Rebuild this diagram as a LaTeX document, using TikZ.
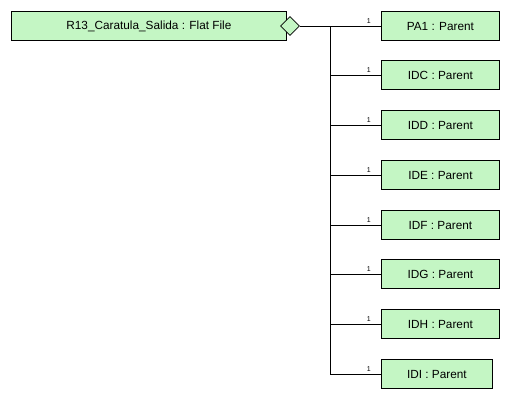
\documentclass[tikz,border=0pt]{standalone}
\usepackage{fontspec}
\setmainfont{Liberation Sans}
\definecolor{boxgreen}{RGB}{196,246,196}
\tikzset{
  classbox/.style={draw, line width=0.8pt, fill=boxgreen, minimum height=29pt, minimum width=118pt, inner sep=0pt, anchor=west, font=\fontsize{11.8}{14}\selectfont},
  mult/.style={font=\fontsize{7}{8}\selectfont, inner sep=1pt, anchor=south east},
  agg/.style={draw, line width=0.8pt, fill=boxgreen, diamond, minimum width=19pt, minimum height=19pt, inner sep=0pt},
  wire/.style={line width=0.8pt}
}
\usetikzlibrary{shapes.geometric}
\begin{document}
\begin{tikzpicture}[x=1pt,y=-1pt]
  \useasboundingbox (0,0) rectangle (511,410);
  % the flat file and its aggregation end
  \node[classbox, minimum width=275pt] (file) at (11,26) {R13\_Caratula\_Salida : Flat File};
  \node[agg] (dia) at (290,26) {};
  % the parents
  \node[classbox] (pa1) at (381,26) {PA1 : Parent};
  \node[classbox] (idc) at (381,75) {IDC : Parent};
  \node[classbox] (idd) at (381,125) {IDD : Parent};
  \node[classbox] (ide) at (381,175) {IDE : Parent};
  \node[classbox] (idf) at (381,225) {IDF : Parent};
  \node[classbox] (idg) at (381,274) {IDG : Parent};
  \node[classbox] (idh) at (381,324) {IDH : Parent};
  \node[classbox, minimum width=111pt] (idi) at (381,374) {IDI : Parent};
  % the trunk
  \coordinate (top) at (330,26);
  \coordinate (bot) at (330,374);
  \draw[wire] (dia.east) -- (pa1.west);
  \draw[wire] (top) -- (bot);
  \draw[wire] (330,75) -- (idc.west);
  \draw[wire] (330,125) -- (idd.west);
  \draw[wire] (330,175) -- (ide.west);
  \draw[wire] (330,225) -- (idf.west);
  \draw[wire] (330,274) -- (idg.west);
  \draw[wire] (330,324) -- (idh.west);
  \draw[wire] (bot) -- (idi.west);
  % multiplicities
  \foreach \n in {pa1,idc,idd,ide,idf,idg,idh,idi}
    \node[mult] at ([xshift=-9pt,yshift=1pt]\n.west) {1};
\end{tikzpicture}
\end{document}
